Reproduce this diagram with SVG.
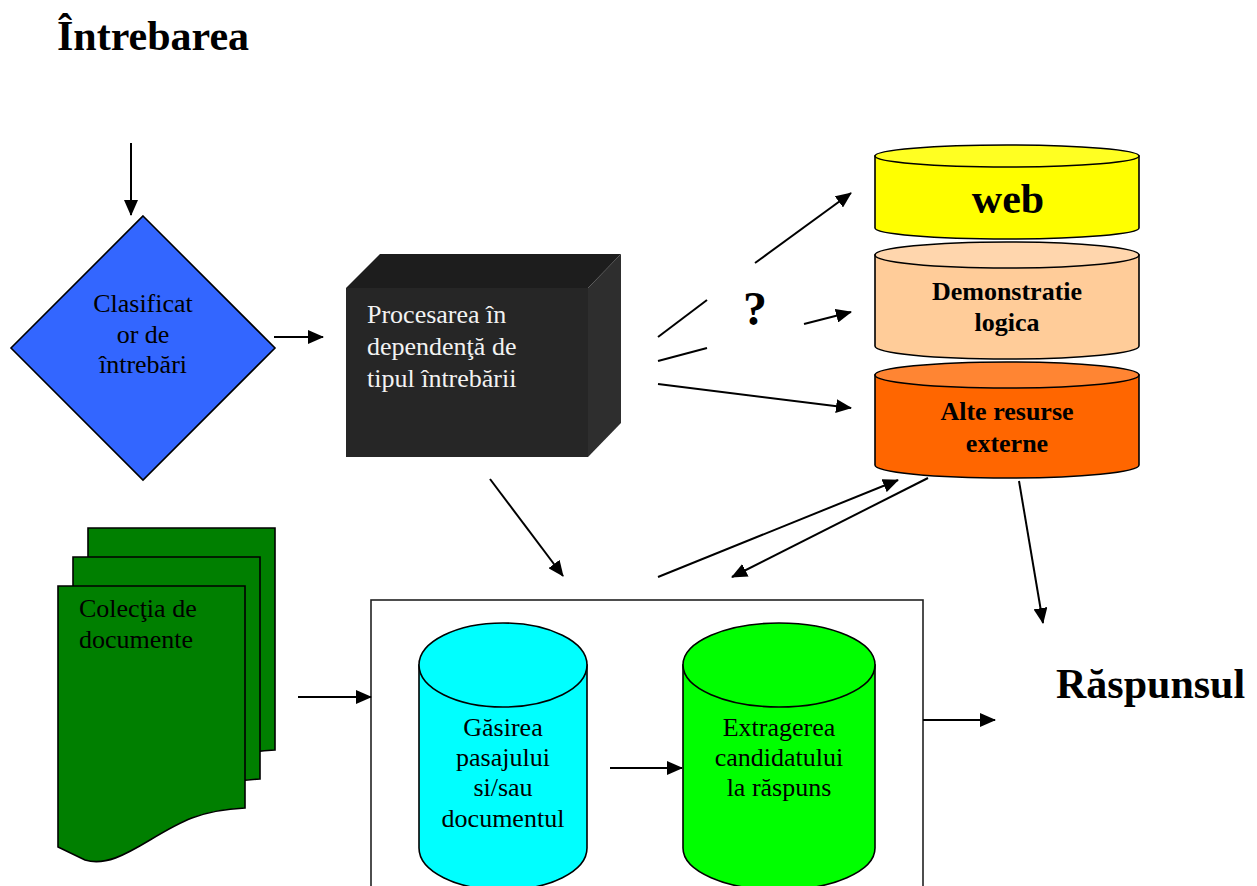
<svg xmlns="http://www.w3.org/2000/svg" width="1257" height="886" viewBox="0 0 1257 886">
  <style>
    .t { font-family: "Liberation Serif", "Times New Roman", serif; font-size: 26px; fill: #000; }
    .b { font-weight: bold; }
    .light { fill: #f2f2f2; }
    .big { font-family: "Liberation Serif", "Times New Roman", serif; font-size: 42px; font-weight: bold; fill: #000; }
    .mid { text-anchor: middle; }
    .edge { stroke: #000; stroke-width: 2; fill: none; }
    .arr { marker-end: url(#head); }
    .shape { stroke: #000; stroke-width: 1.6; }
    .page { stroke: #000; stroke-width: 1.6; fill: #007f00; }
  </style>
  <defs>
    <marker id="head" markerUnits="userSpaceOnUse" markerWidth="16" markerHeight="14" refX="15" refY="7" orient="auto">
      <path d="M0,0 L16,7 L0,14 Z" fill="#000"/>
    </marker>
    <!-- one sheet of the document stack, wavy bottom edge -->
    <path id="sheet" d="M0,0 H187 V222 C142,224 122,236 92,254 C67,269 47,280 27,274 L0,261 Z"/>
  </defs>
  <rect width="1257" height="886" fill="#fff"/>

  <!-- headings -->
  <text id="title-question" class="big" x="57" y="50">Întrebarea</text>
  <text id="title-answer" class="big" x="1056" y="698">Răspunsul</text>

  <!-- question classifier -->
  <g id="classifier">
    <polygon class="shape" points="143,216 275,348 143,480 11,348" fill="#3366ff"/>
    <text class="t mid" x="143" y="312">Clasificat</text>
    <text class="t mid" x="143" y="343">or de</text>
    <text class="t mid" x="143" y="373">întrebări</text>
  </g>

  <!-- processing block -->
  <g id="processing">
    <polygon points="346,288 380,254 621,254 588,288" fill="#1d1d1d"/>
    <polygon points="588,288 621,254 621,423 588,457" fill="#2e2e2e"/>
    <rect x="346" y="288" width="242" height="169" fill="#262626"/>
    <text class="t light" x="367" y="323">Procesarea în</text>
    <text class="t light" x="367" y="355">dependenţă de</text>
    <text class="t light" x="367" y="387">tipul întrebării</text>
  </g>

  <!-- external resources -->
  <g id="web">
    <path class="shape" d="M875,156 V228 A132,11 0 0 0 1139,228 V156 Z" fill="#ffff00"/>
    <ellipse class="shape" cx="1007" cy="156" rx="132" ry="11" fill="#ffff22"/>
    <text class="big mid" x="1008" y="213">web</text>
  </g>
  <g id="logic">
    <path class="shape" d="M875,255 V346 A132,13 0 0 0 1139,346 V255 Z" fill="#ffcc99"/>
    <ellipse class="shape" cx="1007" cy="255" rx="132" ry="13" fill="#ffd6ad"/>
    <text class="t b mid" x="1007" y="300">Demonstratie</text>
    <text class="t b mid" x="1007" y="331">logica</text>
  </g>
  <g id="other">
    <path class="shape" d="M875,375 V465 A132,13 0 0 0 1139,465 V375 Z" fill="#ff6600"/>
    <ellipse class="shape" cx="1007" cy="375" rx="132" ry="13" fill="#ff8533"/>
    <text class="t b mid" x="1007" y="420">Alte resurse</text>
    <text class="t b mid" x="1007" y="452">externe</text>
  </g>
  <text id="question-mark" class="big mid" x="755" y="325" style="font-size:48px">?</text>

  <!-- document collection -->
  <g id="documents">
    <use href="#sheet" class="page" x="88" y="528"/>
    <use href="#sheet" class="page" x="73" y="557"/>
    <use href="#sheet" class="page" x="58" y="586"/>
    <text class="t" x="79" y="617">Colecţia de</text>
    <text class="t" x="79" y="648">documente</text>
  </g>

  <!-- answer extraction module -->
  <g id="module">
    <rect x="371" y="600" width="552" height="310" fill="#fff" stroke="#222" stroke-width="1.6"/>
  </g>
  <g id="passage">
    <path class="shape" d="M419,665 V848 A84,42 0 0 0 587,848 V665 Z" fill="#00ffff"/>
    <ellipse class="shape" cx="503" cy="665" rx="84" ry="42" fill="#00ffff"/>
    <text class="t mid" x="503" y="736">Găsirea</text>
    <text class="t mid" x="503" y="766">pasajului</text>
    <text class="t mid" x="503" y="796">si/sau</text>
    <text class="t mid" x="503" y="827">documentul</text>
  </g>
  <g id="candidate">
    <path class="shape" d="M683,665 V848 A96,42 0 0 0 875,848 V665 Z" fill="#00ff00"/>
    <ellipse class="shape" cx="779" cy="665" rx="96" ry="42" fill="#00ff00"/>
    <text class="t mid" x="779" y="736">Extragerea</text>
    <text class="t mid" x="779" y="766">candidatului</text>
    <text class="t mid" x="779" y="796">la răspuns</text>
  </g>

  <!-- connectors -->
  <g id="connectors">
    <line class="edge arr" x1="131" y1="143" x2="131" y2="215"/>
    <line class="edge arr" x1="274" y1="337" x2="323" y2="337"/>
    <line class="edge" x1="658" y1="337" x2="707" y2="300"/>
    <line class="edge arr" x1="755" y1="263" x2="851" y2="193"/>
    <line class="edge" x1="658" y1="361" x2="707" y2="348"/>
    <line class="edge arr" x1="804" y1="324" x2="851" y2="312"/>
    <line class="edge arr" x1="658" y1="384" x2="851" y2="408"/>
    <line class="edge arr" x1="490" y1="479" x2="563" y2="576"/>
    <line class="edge arr" x1="658" y1="577" x2="898" y2="480"/>
    <line class="edge arr" x1="928" y1="478" x2="732" y2="577"/>
    <line class="edge arr" x1="1019" y1="481" x2="1043" y2="623"/>
    <line class="edge arr" x1="298" y1="697" x2="371" y2="697"/>
    <line class="edge arr" x1="610" y1="768" x2="682" y2="768"/>
    <line class="edge arr" x1="923" y1="720" x2="995" y2="720"/>
  </g>
</svg>
